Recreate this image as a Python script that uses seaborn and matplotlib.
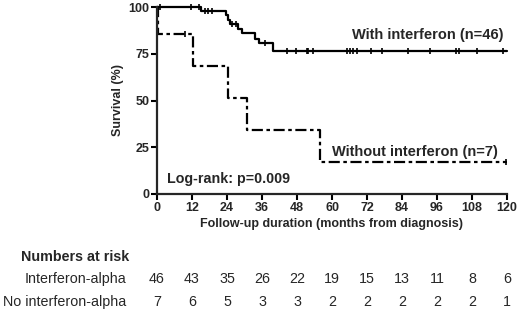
import numpy as np
import pandas as pd
import matplotlib
matplotlib.use("Agg")
import matplotlib.pyplot as plt
import matplotlib.transforms as mtransforms
import seaborn as sns

# ---- data ----
ifn_t = [0, 15, 23.7, 24.3, 25.0, 27.8, 29.0, 33.5, 35.0, 39.7, 120]
ifn_s = [100, 97.8, 95.6, 93.3, 91.0, 88.5, 86.2, 83.0, 80.6, 76.5, 76.5]
no_t = [0, 0.5, 12.5, 24.4, 30.8, 55.9, 120]
no_s = [100, 85.7, 68.6, 51.4, 34.3, 17.1, 17.1]
ifn_cens = [1, 11.5, 14.4, 16.5, 17.5, 18.7, 25.6, 27, 37, 44.4, 47.7, 51.3, 51.8,
            53.5, 65, 66.2, 67.3, 68.5, 73.3, 77, 86, 93.6, 102.5, 103.6, 109.6, 118.5]
no_cens = [9.6, 119.5]
risk_times = [0, 12, 24, 36, 48, 60, 72, 84, 96, 108, 120]
ifn_risk = [46, 43, 35, 26, 22, 19, 15, 13, 11, 8, 6]
no_risk = [7, 6, 5, 3, 3, 2, 2, 2, 2, 2, 1]
row_labels = ["Interferon-alpha", "No interferon-alpha"]
y_ticks = [0, 25, 50, 75, 100]

sns.set_style("ticks")
plt.rcParams['font.family'] = ['Liberation Sans', 'DejaVu Sans']

fig = plt.figure(figsize=(5.2, 3.12), dpi=100)
ax = fig.add_axes([157/520, 1-194/312, 350/520, 187/312])

def step_at(ts, ss, x):
    idx = np.searchsorted(ts, x, side='right') - 1
    return ss[idx]

df_ifn = pd.DataFrame({"t": ifn_t, "s": ifn_s})
df_no = pd.DataFrame({"t": no_t, "s": no_s})
sns.lineplot(data=df_ifn, x="t", y="s", ax=ax, color="black", lw=1.6,
             drawstyle="steps-post", estimator=None, sort=False, clip_on=False)
sns.lineplot(data=df_no, x="t", y="s", ax=ax, color="black", lw=1.6,
             drawstyle="steps-post", estimator=None, sort=False, clip_on=False,
             linestyle=(0, (5, 1.6, 1.6, 1.6)))

cens_ifn = pd.DataFrame({"t": ifn_cens, "s": [step_at(ifn_t, ifn_s, c) for c in ifn_cens]})
cens_no = pd.DataFrame({"t": no_cens, "s": [step_at(no_t, no_s, c) for c in no_cens]})
for d in (cens_ifn, cens_no):
    sns.scatterplot(data=d, x="t", y="s", ax=ax, marker="|", s=20, color="black",
                    linewidth=1.2, clip_on=False, zorder=5)

ax.set_xlim(0, 120)
ax.set_ylim(0, 100)
ax.set_xticks(risk_times)
ax.set_yticks(y_ticks)
for lab in ax.get_xticklabels() + ax.get_yticklabels():
    lab.set_fontweight("bold")
ax.tick_params(axis="both", length=4, width=1.5, labelsize=9, pad=1.5, color="black")
for sp in ("left", "bottom"):
    ax.spines[sp].set_linewidth(1.6)
sns.despine(ax=ax)
ax.set_xlabel("Follow-up duration (months from diagnosis)", fontsize=9, fontweight="bold", labelpad=3)
ax.set_ylabel("Survival (%)", fontsize=9, fontweight="bold", labelpad=3)

ax.text(118.8, 85, "With interferon (n=46)", ha="right", va="center", fontsize=10.5, fontweight="bold")
ax.text(117, 22.6, "Without interferon (n=7)", ha="right", va="center", fontsize=10.5, fontweight="bold")
ax.text(3.3, 8, "Log-rank: p=0.009", ha="left", va="center", fontsize=10.3, fontweight="bold")

tr = mtransforms.blended_transform_factory(ax.transData, fig.transFigure)
fig.text(21/520, 1-256.7/312, "Numbers at risk", ha="left", va="center", fontsize=10.3, fontweight="bold")
rows_y = [1-279/312, 1-302/312]
for lab, y, vals in zip(row_labels, rows_y, (ifn_risk, no_risk)):
    fig.text(126/520, y, lab, ha="right", va="center", fontsize=10.3)
    for t, v in zip(risk_times, vals):
        ax.text(t, y, str(v), ha="center", va="center", fontsize=10.3, transform=tr, clip_on=False)

fig.savefig("out.png", dpi=100)
